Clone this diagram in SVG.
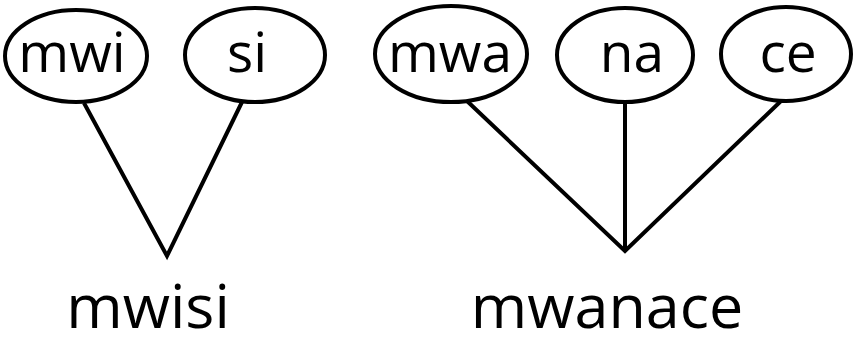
<svg xmlns="http://www.w3.org/2000/svg" width="853" height="347" viewBox="0 0 853 347">
<style>
.node ellipse{fill:#fff;stroke:#000;stroke-width:4}
.lbl{font-family:"Open Sans","Liberation Sans",sans-serif;font-size:55px;fill:#000;text-anchor:middle}
.word{font-family:"Open Sans","Liberation Sans",sans-serif;font-size:61px;fill:#000;text-anchor:middle}
.edge{fill:none;stroke:#000;stroke-width:4;stroke-linejoin:miter;stroke-miterlimit:20}
</style>
<rect width="853" height="347" fill="#fff"/>
<g id="connectors">
<polyline class="edge" points="84,103 167,256 242,102"/>
<polyline class="edge" points="467,101 625,251 781,101"/>
<line class="edge" x1="625" y1="102" x2="625" y2="251"/>
</g>
<g id="node-mwi" class="node"><ellipse cx="76" cy="56" rx="71" ry="46"/><text class="lbl" x="72" y="72">mwi</text></g>
<g id="node-si" class="node"><ellipse cx="255" cy="55" rx="70" ry="47"/><text class="lbl" x="247" y="72">si</text></g>
<g id="node-mwa" class="node"><ellipse cx="451" cy="54" rx="76" ry="48"/><text class="lbl" x="450" y="72">mwa</text></g>
<g id="node-na" class="node"><ellipse cx="625" cy="55" rx="68" ry="47"/><text class="lbl" x="632" y="72">na</text></g>
<g id="node-ce" class="node"><ellipse cx="786" cy="54" rx="65" ry="47"/><text class="lbl" x="788" y="72">ce</text></g>
<g id="word-mwisi"><text class="word" x="148" y="328">mwisi</text></g>
<g id="word-mwanace"><text class="word" x="607" y="328">mwanace</text></g>
</svg>
